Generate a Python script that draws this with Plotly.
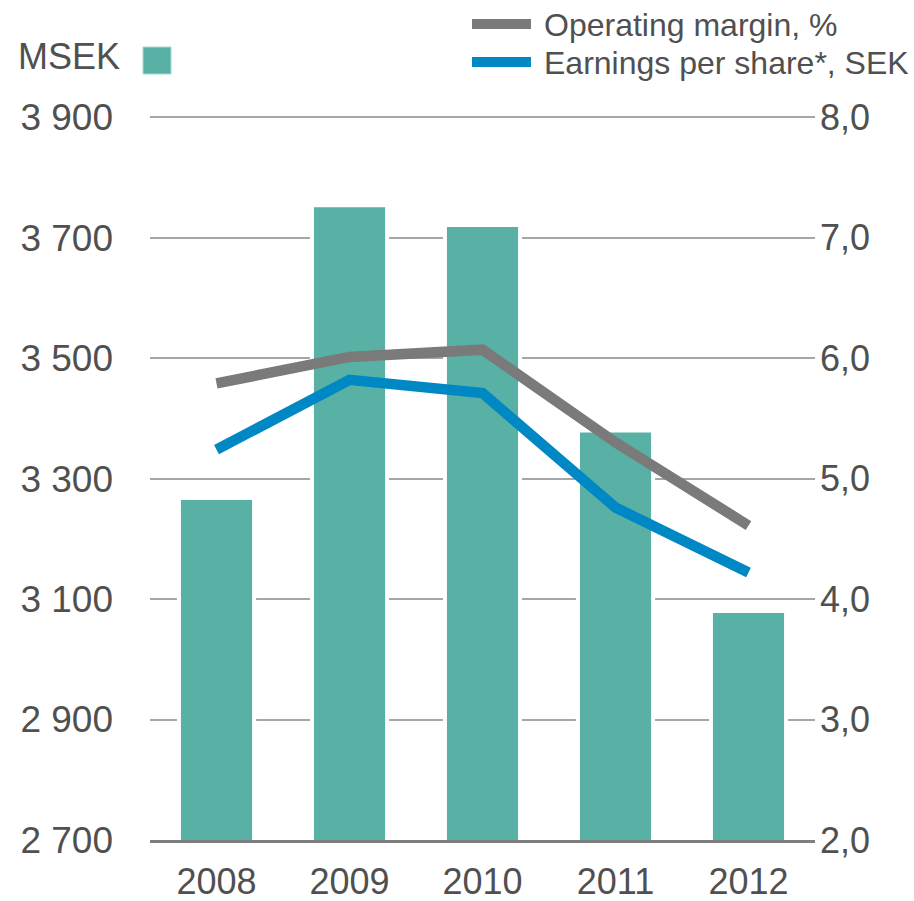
import plotly.graph_objects as go

years = ["2008", "2009", "2010", "2011", "2012"]
net_sales_msek = [3268, 3754, 3721, 3380, 3080]
operating_margin = [5.79, 6.01, 6.07, 5.30, 4.61]
eps_sek = [5.24, 5.82, 5.71, 4.76, 4.22]

BAR = "#58b1a4"
GRAY = "#7a7a7a"
BLUE = "#0088c4"
TXT = "#505050"
FONT = "Liberation Sans, Arial, sans-serif"

W, H = 914, 901
L, R, T, B = 150, 99, 116, 61
PW, PH = W - L - R, H - T - B

def px(x):
    return (x - L) / PW

def py(y):
    return (H - B - y) / PH

fig = go.Figure()
fig.add_trace(go.Bar(x=years, y=net_sales_msek, width=0.565,
                     marker=dict(color=BAR, line=dict(color="white", width=4)),
                     showlegend=False, hoverinfo="skip"))
fig.add_trace(go.Scatter(x=years, y=operating_margin, yaxis="y2", mode="lines",
                         line=dict(color=GRAY, width=10.5), showlegend=False))
fig.add_trace(go.Scatter(x=years, y=eps_sek, yaxis="y2", mode="lines",
                         line=dict(color=BLUE, width=10.5), showlegend=False))

shapes = [
    dict(type="line", xref="paper", yref="paper", x0=px(472), x1=px(531), y0=py(24), y1=py(24),
         line=dict(color=GRAY, width=10)),
    dict(type="line", xref="paper", yref="paper", x0=px(472), x1=px(531), y0=py(62), y1=py(62),
         line=dict(color=BLUE, width=10)),
    dict(type="rect", xref="paper", yref="paper", x0=px(143), x1=px(171), y0=py(74), y1=py(47),
         fillcolor=BAR, line=dict(color="#a8d8d0", width=1)),
]
annotations = [
    dict(xref="paper", yref="paper", x=px(542), y=py(25), text="Operating margin, %",
         showarrow=False, xanchor="left", yanchor="middle", font=dict(size=32, color=TXT, family=FONT)),
    dict(xref="paper", yref="paper", x=px(542), y=py(63), text="Earnings per share*, SEK",
         showarrow=False, xanchor="left", yanchor="middle", font=dict(size=32, color=TXT, family=FONT)),
    dict(xref="paper", yref="paper", x=px(122), y=py(57), text="MSEK",
         showarrow=False, xanchor="right", yanchor="middle", font=dict(size=36, color=TXT, family=FONT)),
]

fig.update_layout(
    width=W, height=H, margin=dict(l=L, r=R, t=T, b=B, pad=0, autoexpand=False),
    paper_bgcolor="white", plot_bgcolor="white",
    separators=", ",
    font=dict(family=FONT, color=TXT, size=36),
    shapes=shapes, annotations=annotations,
    xaxis=dict(type="category", showgrid=False, showline=True, linecolor="#7f7f7f", linewidth=3,
               ticks="", tickfont=dict(size=36, color=TXT), ticklabelstandoff=8,
               layer="above traces", automargin=False),
    yaxis=dict(range=[2700, 3902], dtick=200, tick0=2700, tickformat=",d", showgrid=True,
               gridcolor="#a6a6a6", gridwidth=1.5, zeroline=False, showline=False, ticks="",
               tickfont=dict(size=37, color=TXT), ticklabelstandoff=36, automargin=False),
    yaxis2=dict(range=[2, 8.01], dtick=1, tick0=2, tickformat=".1f", overlaying="y", side="right",
                showgrid=False, zeroline=False, showline=False, ticks="",
                tickfont=dict(size=36, color=TXT), ticklabelstandoff=4, automargin=False),
)

fig.write_html("out.html")
